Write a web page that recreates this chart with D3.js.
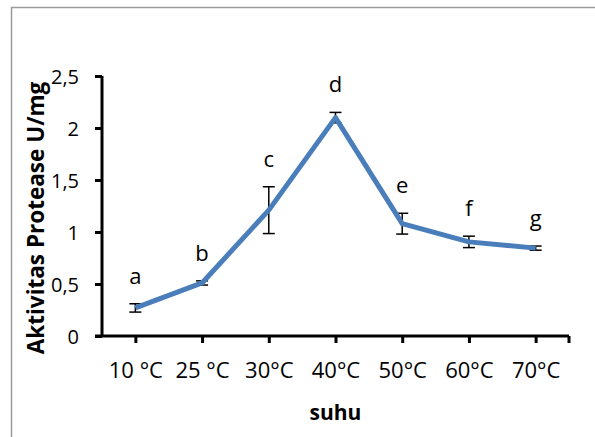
<!DOCTYPE html>
<html>
<head>
<meta charset="utf-8">
<script src="https://cdn.jsdelivr.net/npm/d3@7"></script>
<style>
  body { margin: 0; background: #fff; }
  text { font-family: "Open Sans", sans-serif; fill: #000; }
</style>
</head>
<body>
<div id="chart"></div>
<script>
var svgWidth = 595;
var svgHeight = 437;

// data
var categories = ["10 °C", "25 °C", "30°C", "40°C", "50°C", "60°C", "70°C"];
var values = [0.27, 0.51, 1.21, 2.10, 1.08, 0.905, 0.845];
var errors = [0.04, 0.02, 0.225, 0.05, 0.10, 0.055, 0.02];
var letters = ["a", "b", "c", "d", "e", "f", "g"];
var yTicks = [0, 0.5, 1, 1.5, 2, 2.5];

var margin = { top: 76, right: 26, bottom: 101, left: 102 };
var width = 569 - margin.left;
var height = 336 - margin.top;

var svg = d3.select("#chart")
  .append("svg")
  .attr("width", svgWidth)
  .attr("height", svgHeight);

// outer frame (only left and top visible)
svg.append("path")
  .attr("d", "M11.5,440 V7.5 H600")
  .attr("fill", "none")
  .attr("stroke", "#9a9a9a")
  .attr("stroke-width", 1.5);

var chartGroup = svg.append("g")
  .attr("transform", `translate(${margin.left}, ${margin.top})`);

var xScale = d3.scalePoint()
  .domain(categories)
  .range([0, width])
  .padding(0.5);

var yScale = d3.scaleLinear()
  .domain([0, 2.5])
  .range([height, 0]);

var fmt = d => d3.format("")(d).replace(".", ",");

// y axis
var leftAxis = d3.axisLeft(yScale)
  .tickValues(yTicks)
  .tickSize(7)
  .tickPadding(16)
  .tickFormat(fmt);

var yAxis = chartGroup.append("g").call(leftAxis);
yAxis.select(".domain").attr("stroke-width", 3).attr("d", `M0,${height}V0`);
yAxis.selectAll(".tick line").attr("stroke-width", 3);
yAxis.selectAll("text")
  .attr("font-size", 20)
  .attr("dy", "0.36em")
  .style("font-family", "'Open Sans', sans-serif");

// x axis
var bottomAxis = d3.axisBottom(xScale)
  .tickSize(7);

var xAxis = chartGroup.append("g")
  .attr("transform", `translate(0, ${height})`)
  .call(bottomAxis);
xAxis.select(".domain").attr("stroke-width", 3).attr("d", `M-7,0H${width}`);
xAxis.selectAll(".tick line").attr("stroke-width", 3);
xAxis.selectAll("text")
  .attr("font-size", 22)
  .attr("y", 42)
  .attr("dy", 0)
  .style("font-family", "'Open Sans', sans-serif");
xAxis.append("line")
  .attr("x1", width).attr("x2", width)
  .attr("y1", 0).attr("y2", 7)
  .attr("stroke", "#000")
  .attr("stroke-width", 3);

// error bars
var errGroup = chartGroup.append("g");
categories.forEach(function(c, i) {
  var x = xScale(c);
  var y1 = yScale(values[i] + errors[i]);
  var y2 = yScale(values[i] - errors[i]);
  errGroup.append("line")
    .attr("x1", x).attr("x2", x).attr("y1", y1).attr("y2", y2)
    .attr("stroke", "#000").attr("stroke-width", 1.5);
  [y1, y2].forEach(function(y) {
    errGroup.append("line")
      .attr("x1", x - 6).attr("x2", x + 6).attr("y1", y).attr("y2", y)
      .attr("stroke", "#000").attr("stroke-width", 1.5);
  });
});

// line
var line = d3.line()
  .x((d, i) => xScale(categories[i]))
  .y(d => yScale(d));

chartGroup.append("path")
  .datum(values)
  .attr("d", line)
  .attr("fill", "none")
  .attr("stroke", "#4a7ebb")
  .attr("stroke-width", 5)
  .attr("stroke-linejoin", "round");

// significance letters
chartGroup.selectAll(".letter")
  .data(letters)
  .enter()
  .append("text")
  .attr("class", "letter")
  .attr("x", (d, i) => xScale(categories[i]))
  .attr("y", (d, i) => yScale(values[i] + errors[i]) - 20)
  .attr("text-anchor", "middle")
  .attr("font-size", 22)
  .text(d => d);

// axis titles
chartGroup.append("text")
  .attr("transform", "rotate(-90)")
  .attr("x", -(218 - margin.top))
  .attr("y", 44 - margin.left)
  .attr("text-anchor", "middle")
  .attr("font-size", 22.5)
  .attr("font-weight", "bold")
  .text("Aktivitas Protease U/mg");

chartGroup.append("text")
  .attr("x", width / 2)
  .attr("y", 420 - margin.top)
  .attr("text-anchor", "middle")
  .attr("font-size", 21)
  .attr("font-weight", "bold")
  .text("suhu");
</script>
</body>
</html>
